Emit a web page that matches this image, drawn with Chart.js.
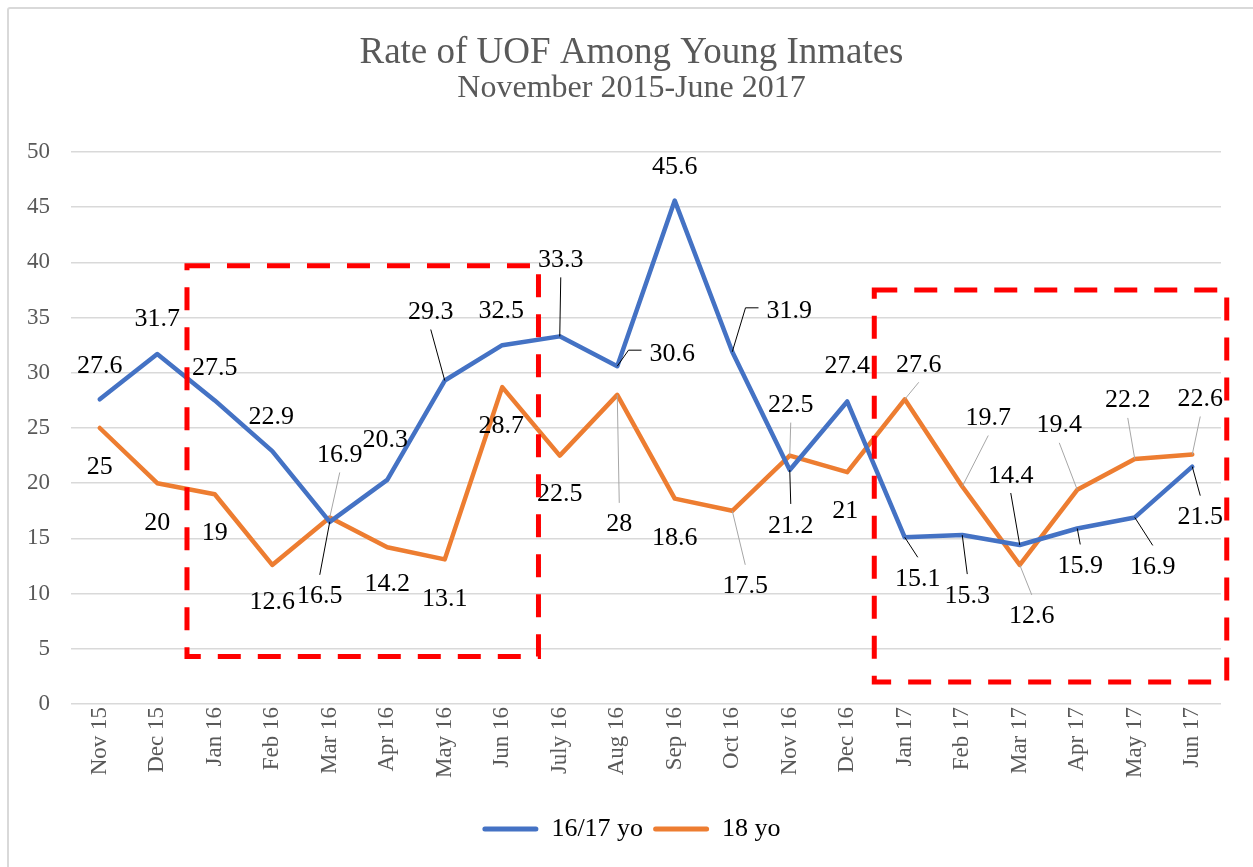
<!DOCTYPE html>
<html><head><meta charset="utf-8">
<script src="https://cdn.jsdelivr.net/npm/chart.js@4/dist/chart.umd.min.js"></script>
<style>
html,body{margin:0;padding:0;background:#fff;overflow:hidden;width:1253px;height:867px;}
#frame{position:absolute;left:7px;top:7px;width:1300px;height:900px;border:2px solid #d9d9d9;border-radius:3px;box-sizing:border-box;}
#c{position:absolute;left:0;top:0;}
</style></head><body>
<div id="frame"></div>
<canvas id="c" width="1253" height="867"></canvas>
<script>
// ---- Data ----
const categories = ["Nov 15","Dec 15","Jan 16","Feb 16","Mar 16","Apr 16","May 16","Jun 16","July 16","Aug 16","Sep 16","Oct 16","Nov 16","Dec 16","Jan 17","Feb 17","Mar 17","Apr 17","May 17","Jun 17"];
const youth1617 = [27.6,31.7,27.5,22.9,16.5,20.3,29.3,32.5,33.3,30.6,45.6,31.9,21.2,27.4,15.1,15.3,14.4,15.9,16.9,21.5];
const youth18   = [25,20,19,12.6,16.9,14.2,13.1,28.7,22.5,28,18.6,17.5,22.5,21,27.6,19.7,12.6,19.4,22.2,22.6];
const seriesNames = ["16/17 yo","18 yo"];
const titleText = "Rate of UOF Among Young Inmates";
const subtitleText = "November 2015-June 2017";

// ---- Label placement (pixel offsets from each point; leader: 0 none, 1 straight, 'h' elbow) ----
const labelOffsets1617 = [[0,-35,0],[0,-37,0],[0,-34,0],[-1,-36,0],[-10,73,1],[-2,-41,0],[-14,-70,1],[-1,-36,0],[1,-78,1],[55,-14,'h'],[0,-35,0],[57,-42,'h'],[1,54,1],[0,-37,0],[13,40,1],[5,59,1],[-9,-71,1],[3,36,1],[18,48,1],[8,49,1]];
const labelOffsets18 = [[0,37,0],[0,38,0],[0,37,0],[0,36,0],[10,-64,1],[0,35,0],[0,38,0],[-1,37,0],[0,37,0],[2,128,1],[0,38,0],[13,74,1],[1,-52,1],[-2,37,0],[14,-36,1],[26,-70,1],[12,50,1],[-18,-66,1],[-7,-60,1],[8,-57,1]];

// ---- Highlight boxes (in axis units: category index, value) ----
const boxLeft   = [1.517, 13.47];
const boxRight  = [7.63, 19.6];
const boxTop    = [39.7, 37.5];
const boxBottom = [4.3, 2.0];

const FONT = '"Liberation Serif", "Times New Roman", serif';

const labelPlugin = {
  id: 'pointLabels',
  afterDatasetsDraw(chart) {
    const ctx = chart.ctx;
    const offsets = [labelOffsets1617, labelOffsets18];
    const leaderColors = ['#000000', '#a6a6a6'];
    const size = 26;
    ctx.save();
    ctx.font = size + 'px ' + FONT;
    chart.data.datasets.forEach((ds, di) => {
      const meta = chart.getDatasetMeta(di);
      meta.data.forEach((pt, i) => {
        const [dx, dy, leader] = offsets[di][i];
        const cx = pt.x + dx, cy = pt.y + dy;
        const text = String(ds.data[i]);
        const w = ctx.measureText(text).width;
        if (leader) {
          ctx.strokeStyle = leaderColors[di];
          ctx.lineWidth = 1;
          ctx.beginPath();
          if (leader === 'h') {
            const left = cx - w / 2;
            ctx.moveTo(left - 8, cy - 2);
            ctx.lineTo(left - 21, cy - 2);
            ctx.lineTo(pt.x, pt.y);
          } else {
            const ey = dy < 0 ? cy + 19 : cy - 20;
            ctx.moveTo(cx, ey);
            ctx.lineTo(pt.x, pt.y);
          }
          ctx.stroke();
        }
        ctx.fillStyle = '#000';
        ctx.textAlign = 'center';
        ctx.textBaseline = 'alphabetic';
        ctx.fillText(text, cx, cy + 0.33 * size);
      });
    });
    ctx.restore();
  }
};

const boxPlugin = {
  id: 'highlightBoxes',
  afterDraw(chart) {
    const ctx = chart.ctx;
    const xs = chart.scales.x, ys = chart.scales.y;
    ctx.save();
    ctx.strokeStyle = '#ff0000';
    ctx.lineWidth = 5;
    ctx.setLineDash([23, 17]);
    for (let k = 0; k < boxLeft.length; k++) {
      const x0 = xs.getPixelForValue(boxLeft[k]);
      const x1 = xs.getPixelForValue(boxRight[k]);
      const y0 = ys.getPixelForValue(boxTop[k]);
      const y1 = ys.getPixelForValue(boxBottom[k]);
      ctx.strokeRect(x0, y0, x1 - x0, y1 - y0);
    }
    ctx.restore();
  }
};

new Chart(document.getElementById('c'), {
  type: 'line',
  data: {
    labels: categories,
    datasets: [
      { label: seriesNames[0], data: youth1617, borderColor: '#4472C4', backgroundColor: '#4472C4', borderWidth: 4.5, pointRadius: 0, tension: 0, borderJoinStyle: 'round', borderCapStyle: 'round' },
      { label: seriesNames[1], data: youth18, borderColor: '#ED7D31', backgroundColor: '#ED7D31', borderWidth: 4.5, pointRadius: 0, tension: 0, borderJoinStyle: 'round', borderCapStyle: 'round' }
    ]
  },
  options: {
    responsive: false,
    animation: false,
    devicePixelRatio: 1,
    layout: { padding: { left: 10, right: 0, top: 0, bottom: 15 } },
    plugins: {
      title: { display: true, text: titleText, color: '#595959', font: { family: FONT, size: 37, weight: 'normal', lineHeight: 1 }, padding: { top: 35, bottom: 0 } },
      subtitle: { display: true, text: subtitleText, color: '#595959', font: { family: FONT, size: 32, weight: 'normal', lineHeight: 1 }, padding: { top: 1, bottom: 47 } },
      legend: {
        position: 'bottom',
        labels: {
          color: '#000', font: { family: FONT, size: 26 }, boxWidth: 56, boxHeight: 5, padding: 10, useBorderRadius: true, borderRadius: 2.5,
          generateLabels(chart) {
            return Chart.defaults.plugins.legend.labels.generateLabels(chart).map(l => Object.assign(l, { lineWidth: 0, fillStyle: l.strokeStyle }));
          }
        }
      },
      tooltip: { enabled: false }
    },
    scales: {
      x: {
        type: 'category', offset: true,
        grid: { display: false, drawTicks: false },
        border: { display: false },
        ticks: { color: '#595959', font: { family: FONT, size: 23 }, minRotation: 90, maxRotation: 90, padding: 3, autoSkip: false },
        afterFit(s) { s.height = 102; }
      },
      y: {
        min: 0, max: 50,
        grid: { color: '#d9d9d9', lineWidth: 1.5, drawTicks: false },
        border: { display: false },
        ticks: { stepSize: 5, color: '#595959', font: { family: FONT, size: 23 }, padding: 21 },
        afterFit(s) { s.width = 61; }
      },
      yRightSpacer: {
        position: 'right', min: 0, max: 50,
        grid: { display: false, drawTicks: false },
        border: { display: false },
        ticks: { display: false },
        afterFit(s) { s.width = 32; }
      }
    }
  },
  plugins: [labelPlugin, boxPlugin]
});
</script>
</body></html>
